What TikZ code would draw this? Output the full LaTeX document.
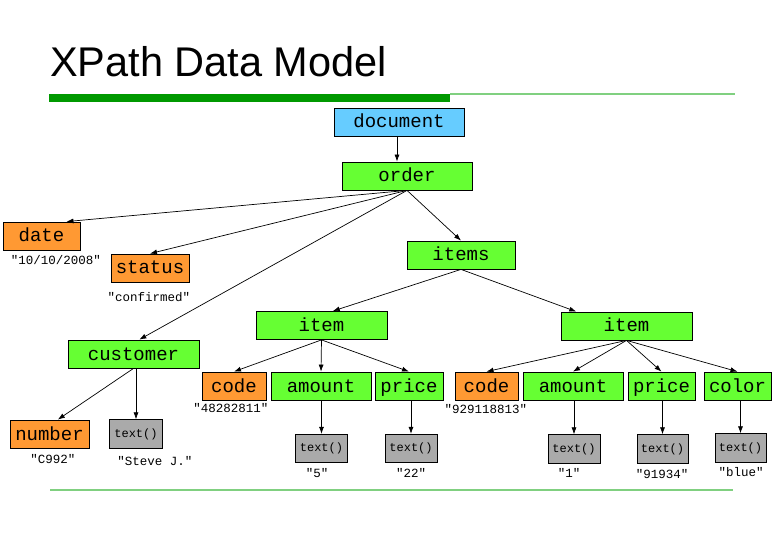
\documentclass[tikz,border=0pt]{standalone}
\usepackage{fontspec}
\setmainfont{Liberation Sans}
\newfontfamily\codefont{Liberation Mono}
\usepackage{tikz}
\usetikzlibrary{positioning, calc, arrows.meta}

\definecolor{boxgreen}{HTML}{66FF33}
\definecolor{boxorange}{HTML}{FF9933}
\definecolor{boxblue}{HTML}{66CCFF}
\definecolor{boxgray}{HTML}{AAAAAA}
\definecolor{bardark}{HTML}{009900}
\definecolor{barlight}{HTML}{80D080}

\tikzset{
  tnode/.style={draw=black, line width=0.8pt, inner sep=0pt, minimum height=28pt,
                text height=12pt, text depth=0pt,
                font=\codefont\fontsize{19}{19}\selectfont},
  elem/.style={tnode, fill=boxgreen},
  attr/.style={tnode, fill=boxorange},
  root/.style={tnode, fill=boxblue},
  txt/.style={tnode, fill=boxgray, minimum width=52pt, minimum height=28.5pt,
              text height=7pt, text depth=1pt,
              font=\codefont\fontsize{12}{12}\selectfont},
  val/.style={inner sep=0pt, font=\codefont\fontsize{12.5}{12.5}\selectfont},
  arr/.style={line width=0.7pt, -{Latex[length=7pt,width=5pt]}}
}

\begin{document}
\begin{tikzpicture}[x=1pt, y=-1pt]
                \useasboundingbox (0,0) rectangle (782,537);
                % title and rules
                \node[anchor=base west, inner sep=0pt, font=\fontsize{41.5}{41.5}\selectfont] (title) at (50,77) {XPath Data Model};
                \fill[bardark] (49,94) rectangle (450,102.5);
                \draw[barlight, line width=1.5pt] (450,94) -- (735,94);
                \draw[barlight, line width=1.5pt] (50,490) -- (733,490);

                % tree nodes
                \node[root, minimum width=130pt] (document) at (399,122) {document};
                \node[elem, minimum width=130pt] (order) at (407,176) {order};
                \node[attr, minimum width=77pt] (date) at (41.5,236) {date};
                \node[attr, minimum width=78pt] (status) at (150,268) {status};
                \node[elem, minimum width=108pt] (items) at (461,255) {items};
                \node[elem, minimum width=131pt] (customer) at (133.5,354) {customer};
                \node[attr, minimum width=79pt] (number) at (49.5,434) {number};
                \node[txt, minimum width=53pt] (custtext) at (136,434) {text()};

                \node[elem, minimum width=131pt] (item1) at (321.5,325.5) {item};
                \node[attr, minimum width=64pt] (code1) at (234,386) {code};
                \node[elem, minimum width=100pt] (amount1) at (321,386) {amount};
                \node[elem, minimum width=68pt] (price1) at (409,386) {price};
                \node[txt] (amounttext1) at (321.5,448.5) {text()};
                \node[txt] (pricetext1) at (411,448.5) {text()};

                \node[elem, minimum width=131pt] (item2) at (626.5,326) {item};
                \node[attr, minimum width=63pt] (code2) at (486.5,386) {code};
                \node[elem, minimum width=100pt] (amount2) at (573,386) {amount};
                \node[elem, minimum width=67pt] (price2) at (661.5,386) {price};
                \node[elem, minimum width=67pt] (color) at (737.5,386) {color};
                \node[txt] (amounttext2) at (574,449) {text()};
                \node[txt, minimum width=51pt] (pricetext2) at (662.5,449) {text()};
                \node[txt, minimum width=51pt] (colortext) at (740.5,448) {text()};

                % values
                \node[val] (vdate) at (56,260) {"10/10/2008"};
                \node[val] (vstatus) at (149,297) {"confirmed"};
                \node[val] (vnumber) at (53,459) {"C992"};
                \node[val] (vcust) at (155,461) {"Steve J."};
                \node[val] (vcode1) at (231,408) {"48282811"};
                \node[val] (vcode2) at (486,409) {"929118813"};
                \node[val] (vamount1) at (317,473) {"5"};
                \node[val] (vprice1) at (411,473) {"22"};
                \node[val] (vamount2) at (569,473) {"1"};
                \node[val] (vprice2) at (662,474) {"91934"};
                \node[val] (vcolor) at (741,472) {"blue"};

                % edges
                \coordinate (docdown) at ($(document.south)+(-2,0)$);
                \draw[arr] (docdown) -- (docdown |- order.north);
                \draw[arr] (order.south) -- (date.30);
                \draw[arr] (order.south) -- (status.north);
                \draw[arr] (order.south) -- (customer.68);
                \draw[arr] (order.south) -- (items.north);
                \draw[arr] (customer.south) -- (number.60);
                \draw[arr] (custtext.north |- customer.south) -- (custtext.north);
                \draw[arr] (items.south) -- (item1.52);
                \draw[arr] (items.south) -- (item2.164);
                \draw[arr] (item1.south) -- (code1.north);
                \draw[arr] (item1.south) -- (amount1.north);
                \draw[arr] (item1.south) -- (price1.north);
                \draw[arr] (amounttext1.north |- amount1.south) -- (amounttext1.north);
                \draw[arr] (pricetext1.north |- price1.south) -- (pricetext1.north);
                \draw[arr] (item2.south) -- (code2.north);
                \draw[arr] (item2.south) -- (amount2.north);
                \draw[arr] (item2.south) -- (price2.north);
                \draw[arr] (item2.south) -- (color.north);
                \draw[arr] (amounttext2.north |- amount2.south) -- (amounttext2.north);
                \draw[arr] (pricetext2.north |- price2.south) -- (pricetext2.north);
                \draw[arr] (colortext.north |- color.south) -- (colortext.north);
\end{tikzpicture}
\end{document}
